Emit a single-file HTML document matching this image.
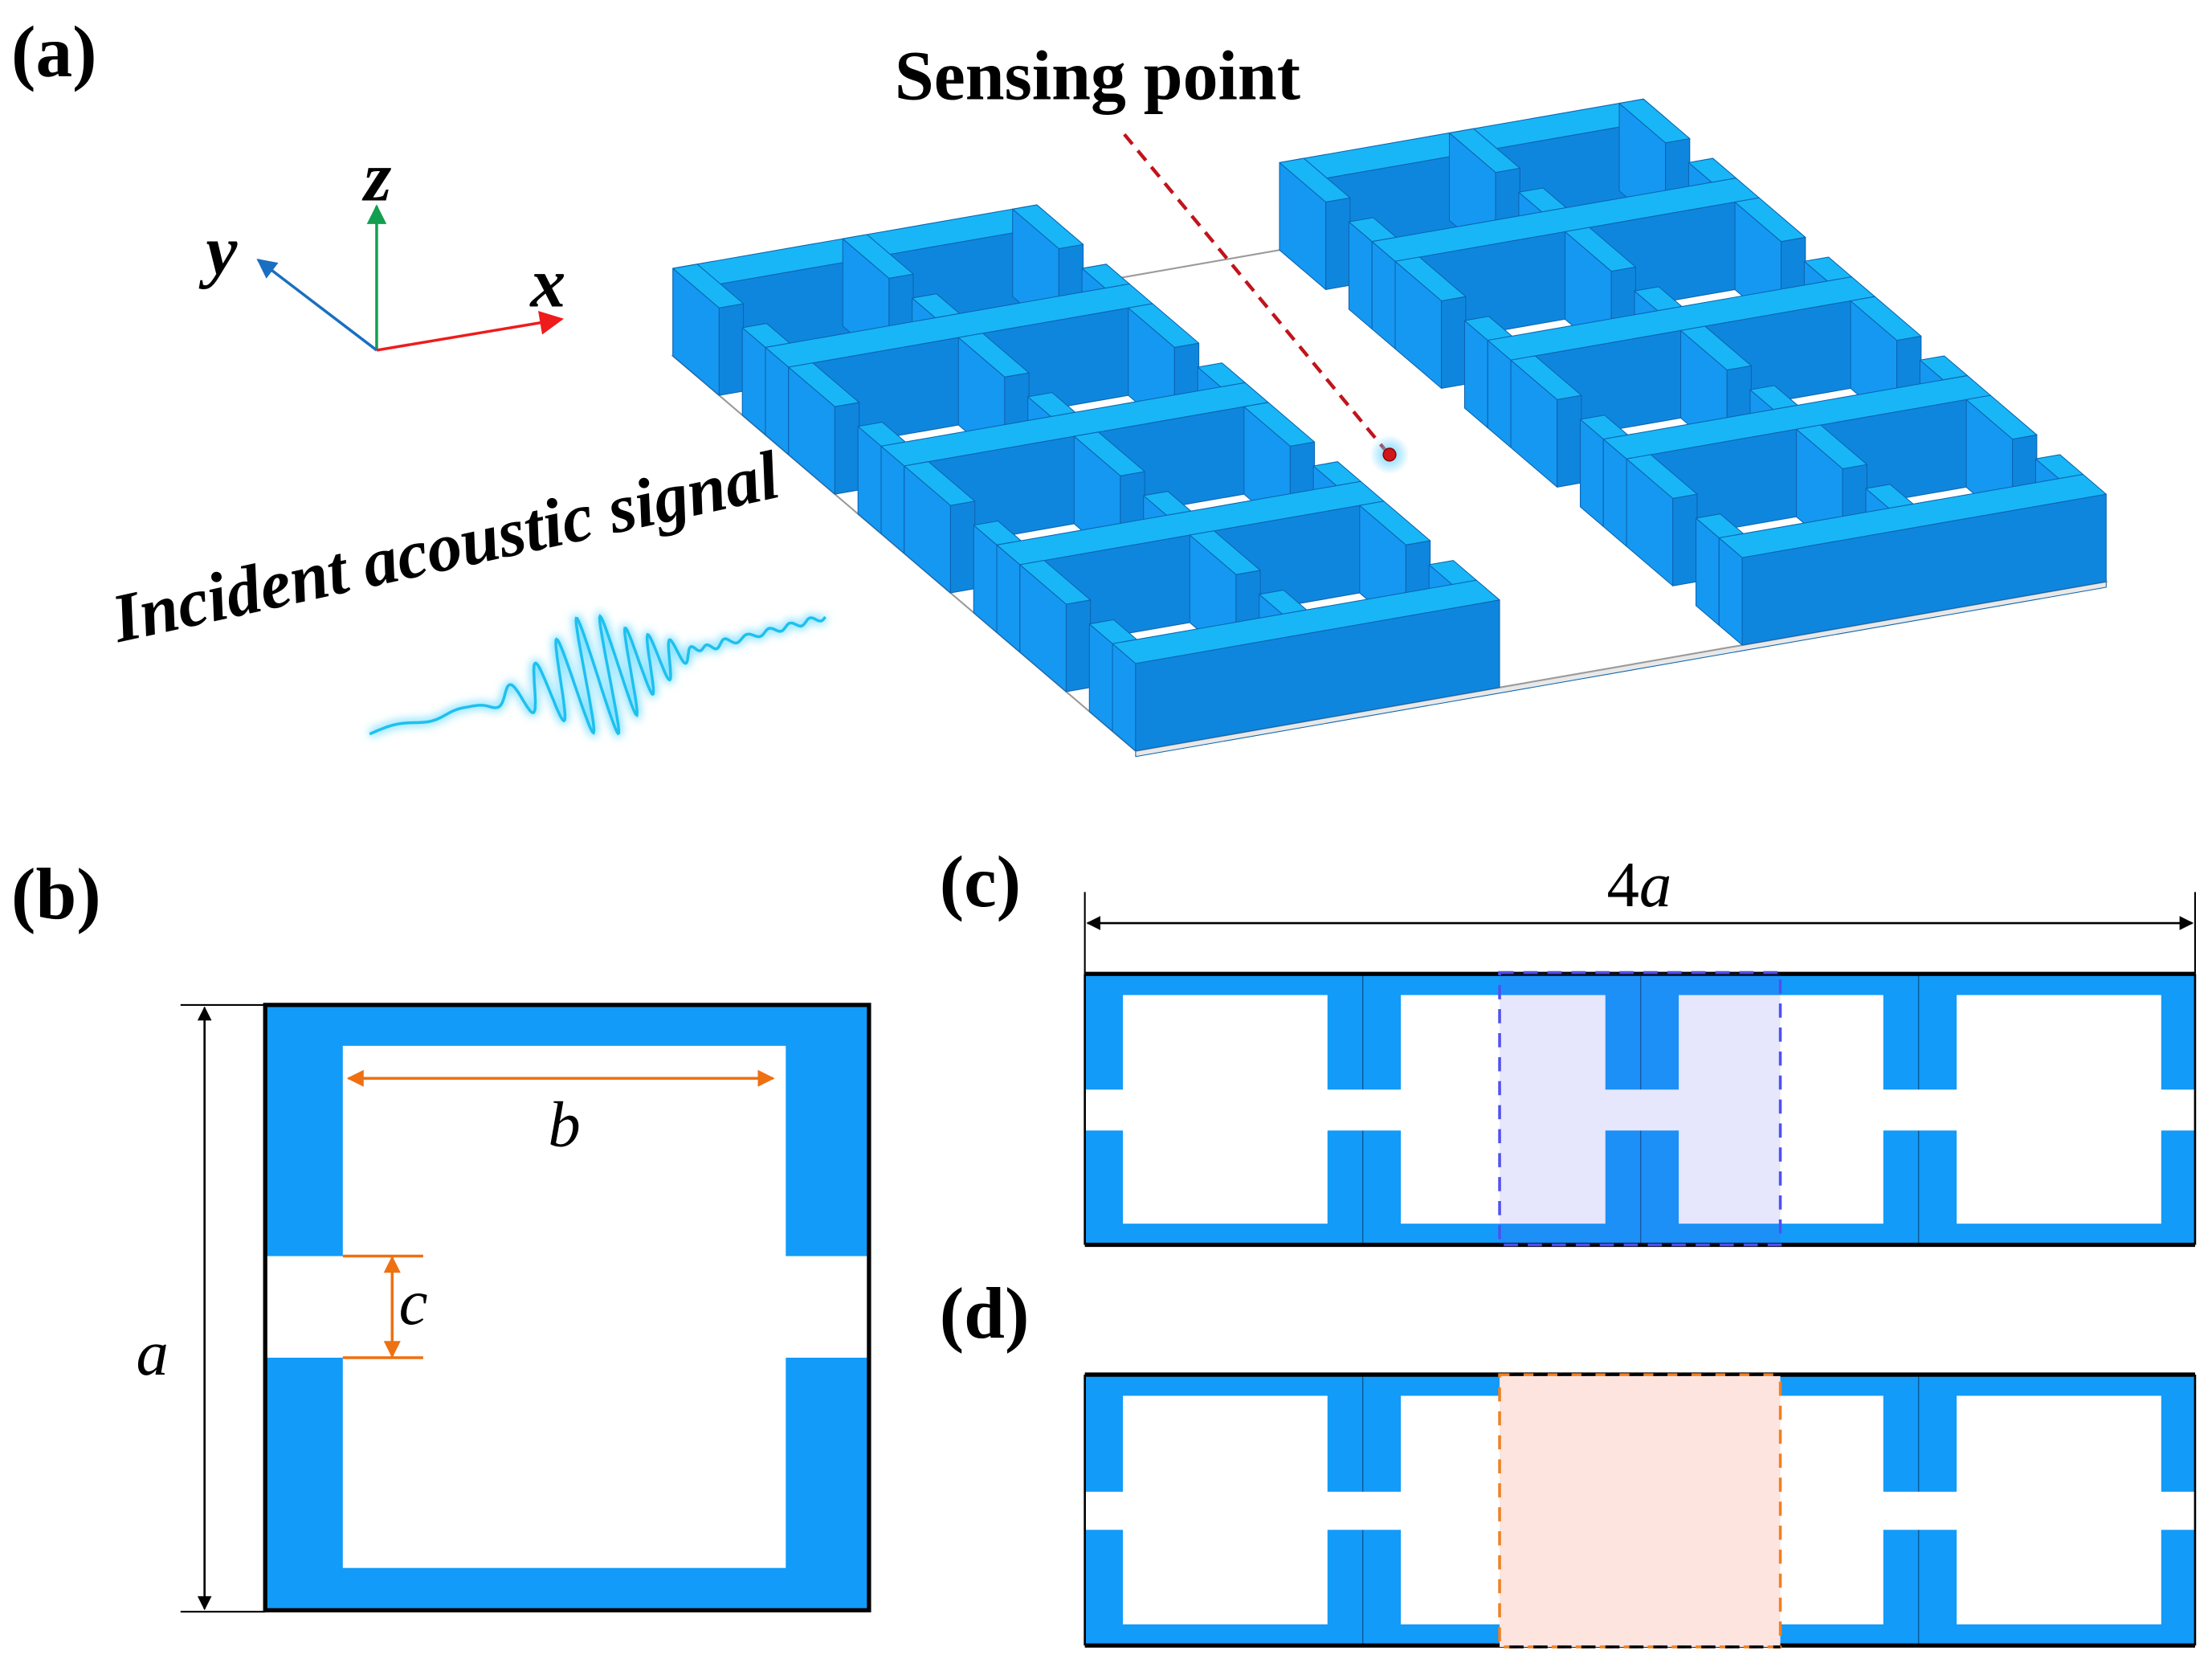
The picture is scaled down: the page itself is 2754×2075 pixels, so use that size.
<!DOCTYPE html>
<html><head><meta charset="utf-8"><style>
html,body{margin:0;padding:0;background:#fff;}
svg{display:block;}
text{font-family:"Liberation Serif",serif;}
</style></head><body>
<svg id="s" width="2754" height="2075" viewBox="0 0 1568 1181" xmlns="http://www.w3.org/2000/svg">
<defs>
<marker id="ak2" viewBox="0 0 10 10" refX="9" refY="5" markerWidth="16" markerHeight="10" orient="auto-start-reverse" markerUnits="userSpaceOnUse"><path d="M0,0 L10,5 L0,10 Z" fill="#000"/></marker>
<marker id="ao" viewBox="0 0 10 10" refX="9" refY="5" markerWidth="16" markerHeight="12" orient="auto-start-reverse" markerUnits="userSpaceOnUse"><path d="M0,0 L10,5 L0,10 Z" fill="#ee7011"/></marker>
<marker id="ag" viewBox="0 0 10 10" refX="9" refY="5" markerWidth="18" markerHeight="14" orient="auto" markerUnits="userSpaceOnUse"><path d="M0,0 L10,5 L0,10 Z" fill="#12a050"/></marker>
<marker id="ab" viewBox="0 0 10 10" refX="9" refY="5" markerWidth="18" markerHeight="14" orient="auto" markerUnits="userSpaceOnUse"><path d="M0,0 L10,5 L0,10 Z" fill="#1a6fc0"/></marker>
<marker id="ar" viewBox="0 0 10 10" refX="9" refY="5" markerWidth="24" markerHeight="17" orient="auto" markerUnits="userSpaceOnUse"><path d="M0,0 L10,5 L0,10 Z" fill="#ee1c1c"/></marker>
<radialGradient id="glow"><stop offset="0" stop-color="#5fd0ff" stop-opacity="0.9"/><stop offset="1" stop-color="#5fd0ff" stop-opacity="0"/></radialGradient>
<filter id="wg" x="-20%" y="-50%" width="140%" height="200%"><feGaussianBlur stdDeviation="3"/></filter>
</defs>

<text x="8" y="54" font-size="52" font-weight="bold">(a)</text>
<text x="8" y="651" font-size="52" font-weight="bold">(b)</text>
<text x="666" y="642" font-size="52" font-weight="bold">(c)</text>
<text x="666" y="948" font-size="52" font-weight="bold">(d)</text>

<line x1="267" y1="248" x2="267" y2="146" stroke="#12a050" stroke-width="2" marker-end="url(#ag)"/>
<line x1="267" y1="248" x2="183" y2="184" stroke="#1a6fc0" stroke-width="2" marker-end="url(#ab)"/>
<line x1="267" y1="248" x2="398" y2="226" stroke="#ee1c1c" stroke-width="2" marker-end="url(#ar)"/>
<text x="258" y="142" font-size="50" font-weight="bold" font-style="italic">z</text>
<text x="146" y="194" font-size="50" font-weight="bold" font-style="italic">y</text>
<text x="376" y="217" font-size="50" font-weight="bold" font-style="italic">x</text>

<text x="778" y="70" font-size="50" font-weight="bold" text-anchor="middle">Sensing point</text>
<text transform="translate(84,455) rotate(-12.4)" font-size="49" font-weight="bold" font-style="italic">Incident acoustic signal</text>

<g id="struct"></g>
<g id="wave"></g>

<line x1="797" y1="95" x2="983" y2="320" stroke="#c0141c" stroke-width="2.5" stroke-dasharray="9,6"/>
<circle cx="985" cy="322" r="14" fill="url(#glow)"/>
<circle cx="985" cy="322" r="4.5" fill="#d01818" stroke="#800" stroke-width="0.8"/>

<rect x="188" y="712" width="428" height="429" fill="#129bf8"/>
<rect x="243" y="741" width="314" height="370" fill="#fff"/>
<rect x="188" y="890" width="428" height="72" fill="#fff"/>
<rect x="188" y="712" width="428" height="429" fill="none" stroke="#000" stroke-width="3"/>
<line x1="128" y1="712" x2="188" y2="712" stroke="#000" stroke-width="1.2"/>
<line x1="128" y1="1142" x2="188" y2="1142" stroke="#000" stroke-width="1.2"/>
<line x1="145" y1="714" x2="145" y2="1140" stroke="#000" stroke-width="1.5" marker-start="url(#ak2)" marker-end="url(#ak2)"/>
<text x="108" y="974" font-size="46" font-style="italic" text-anchor="middle">a</text>
<line x1="247" y1="764" x2="548" y2="764" stroke="#ee7011" stroke-width="2" marker-start="url(#ao)" marker-end="url(#ao)"/>
<text x="400" y="812" font-size="46" font-style="italic" text-anchor="middle">b</text>
<line x1="243" y1="890" x2="300" y2="890" stroke="#ee7011" stroke-width="2"/>
<line x1="243" y1="962" x2="300" y2="962" stroke="#ee7011" stroke-width="2"/>
<line x1="278" y1="891" x2="278" y2="961" stroke="#ee7011" stroke-width="2" marker-start="url(#ao)" marker-end="url(#ao)"/>
<text x="293" y="938" font-size="46" font-style="italic" text-anchor="middle">c</text>

<text x="1162" y="642" font-size="46" text-anchor="middle">4<tspan font-style="italic">a</tspan></text>
<line x1="769" y1="632" x2="769" y2="690" stroke="#000" stroke-width="1.2"/>
<line x1="1556" y1="632" x2="1556" y2="690" stroke="#000" stroke-width="1.2"/>
<line x1="771" y1="654" x2="1554" y2="654" stroke="#000" stroke-width="1.5" marker-start="url(#ak2)" marker-end="url(#ak2)"/>
<g id="strips"></g>
<rect x="1063" y="689" width="199" height="193" fill="rgb(90,90,240)" fill-opacity="0.15" stroke="#5050f0" stroke-width="2" stroke-dasharray="10,7"/>
<rect x="1063" y="974" width="199" height="193" fill="#fde4df" stroke="#f08020" stroke-width="2" stroke-dasharray="10,7"/>
<line x1="1063" y1="974" x2="1262" y2="974" stroke="#000" stroke-width="2" stroke-dasharray="10,7" stroke-dashoffset="10"/>
<line x1="1063" y1="1167" x2="1262" y2="1167" stroke="#000" stroke-width="2" stroke-dasharray="10,7" stroke-dashoffset="10"/>
</svg>
<script>
(function(){
var NS="http://www.w3.org/2000/svg";
function el(p,tag,a){var e=document.createElementNS(NS,tag);for(var k in a)e.setAttribute(k,a[k]);p.appendChild(e);return e;}
var sg=document.getElementById("strips");
[[690,772,801],[974,1057,1084]].forEach(function(c){
  var y=c[0];
  el(sg,"rect",{x:769,y:y,width:787,height:192,fill:"#129bf8"});
  [966,1163,1360].forEach(function(x){el(sg,"line",{x1:x,y1:y,x2:x,y2:y+192,stroke:"#0a5a9a","stroke-width":0.8});});
  [769,966,1163,1360].forEach(function(x){el(sg,"rect",{x:x+27,y:y+15,width:145,height:162,fill:"#fff"});});
  el(sg,"rect",{x:769,y:c[1],width:787,height:c[2]-c[1],fill:"#fff"});
  el(sg,"line",{x1:769,y1:y,x2:1556,y2:y,stroke:"#000","stroke-width":3});
  el(sg,"line",{x1:769,y1:y+192,x2:1556,y2:y+192,stroke:"#000","stroke-width":3});
  el(sg,"line",{x1:769,y1:y,x2:769,y2:y+192,stroke:"#000","stroke-width":1.5});
  el(sg,"line",{x1:1556,y1:y,x2:1556,y2:y+192,stroke:"#000","stroke-width":1.5});
});
var g=document.getElementById("struct");
function P(X,Y,Z){return [805+86*X-82*Y, 532-15*X-70*Y-Z];}
function poly(pts,fill){el(g,"polygon",{points:pts.map(function(p){return p[0].toFixed(1)+","+p[1].toFixed(1);}).join(" "),fill:fill,stroke:"#0b64b0","stroke-width":0.6,"stroke-linejoin":"round"});}
var pl=[P(0,0,0),P(8,0,0),P(8,4,0),P(0,4,0)];
poly([P(0,0,-4),P(8,0,-4),P(8,0,0),P(0,0,0)],"#e8e8e8");
el(g,"polygon",{points:pl.map(function(p){return p.join(",");}).join(" "),fill:"#fff",stroke:"#9a9a9a","stroke-width":1.2});
var H=62,t=0.2,boxes=[];
[0,5].forEach(function(gx){
  for(var k=0;k<=4;k++){var y0=k<4?k:4-t;boxes.push([gx,gx+3,y0,y0+t]);}
  for(var k=0;k<4;k++){
    [gx,gx+1.5-t/2,gx+3-t].forEach(function(x){
      boxes.push([x,x+t,k+t,k+0.4]);boxes.push([x,x+t,k+0.6,k+1]);
    });
  }
});
boxes.sort(function(a,b){var ya=(a[2]+a[3])/2,yb=(b[2]+b[3])/2;if(Math.abs(ya-yb)>1e-6)return yb-ya;return (b[0]+b[1])-(a[0]+a[1]);});
boxes.forEach(function(b){
  var X0=b[0],X1=b[1],Y0=b[2],Y1=b[3];
  poly([P(X0,Y0,0),P(X0,Y1,0),P(X0,Y1,H),P(X0,Y0,H)],"#1598f2");
  poly([P(X0,Y0,0),P(X1,Y0,0),P(X1,Y0,H),P(X0,Y0,H)],"#0f86de");
  poly([P(X0,Y0,H),P(X1,Y0,H),P(X1,Y1,H),P(X0,Y1,H)],"#18b6f6");
});
var wg=document.getElementById("wave");
var x0=262,y0=520,x1=585,y1=437,dx=x1-x0,dy=y1-y0,L=Math.sqrt(dx*dx+dy*dy),nx=dy/L,ny=-dx/L;
var d="";
for(var i=0;i<=600;i++){var s=i/600;var env=Math.exp(-Math.pow((s-0.5)/0.14,2));var ph=2*Math.PI*(6*s+14*s*s);var a=42*env*Math.sin(ph)+2*Math.sin(ph*0.7);
 var px=x0+dx*s+nx*a,py=y0+dy*s+ny*a;d+=(i?"L":"M")+px.toFixed(1)+","+py.toFixed(1);}
el(wg,"path",{d:d,fill:"none",stroke:"#7fe0ff","stroke-width":5,filter:"url(#wg)"});
el(wg,"path",{d:d,fill:"none",stroke:"#1ec0ee","stroke-width":2});
})();
</script>
</body></html>
